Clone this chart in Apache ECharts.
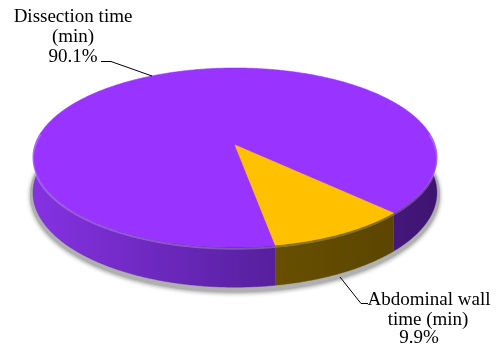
<!DOCTYPE html>
<html>
<head>
<meta charset="utf-8">
<script src="https://cdn.jsdelivr.net/npm/echarts@6/dist/echarts.min.js"></script>
<style>
  html, body { margin: 0; padding: 0; background: #ffffff; }
  #chart { width: 497px; height: 348px; }
</style>
</head>
<body>
<div id="chart"></div>
<script>
// Slices of the 3-D pie
const categories = ['Dissection time (min)', 'Abdominal wall time (min)'];
const labelNames = [['Dissection time', '(min)'], ['Abdominal wall', 'time (min)']];
const values = [90.1, 9.9];

// Colours: top face and the side wall gradient stops (dark side of the disc)
const topColors = ['#9933FF', '#FFC000'];
const sideStops = [
  [{ offset: 0, color: '#8532e2' }, { offset: 0.52, color: '#5c22a6' }, { offset: 1, color: '#3e1470' }],
  [{ offset: 0, color: '#7a5d00' }, { offset: 0.52, color: '#6b5100' }, { offset: 1, color: '#574200' }]
];

// Disc geometry (perspective projection of a flat cylinder)
const geo = { cx: 235, cy: 145, A: 200, B: 87.8, k: 0.14, T: 34.5, start: 80 };
const visibleWin = [-8, 188];

// Label placement (line centres) and leader polylines
const labelLayout = [
  { lines: [[73, 17], [73, 37], [73, 57]], leader: [[101, 61.5], [111, 61.5], [152, 76]] },
  { lines: [[429, 300], [428, 320], [419, 338]], leader: [[340, 277], [361, 303.5], [368, 303.5]] }
];
const labelFont = { fontFamily: 'Liberation Serif', fontSize: 19, fontWeight: 'normal', color: '#000000' };

function proj(deg, h, grow) {
  const g = grow || 0;
  const t = deg * Math.PI / 180;
  const X = Math.cos(t), Z = Math.sin(t);
  const w = 1 - geo.k * Z;
  return [geo.cx + (geo.A + g) * X / w, geo.cy + ((geo.B + g) * Z + geo.T * h) / w];
}
function arc(a0, a1, h, grow) {
  const pts = [];
  const n = Math.max(2, Math.ceil(Math.abs(a1 - a0) / 0.5));
  for (let s = 0; s <= n; s++) pts.push(proj(a0 + (a1 - a0) * s / n, h, grow));
  return pts;
}
function visiblePieces(a0, a1) {
  const out = [];
  for (let n = -1; n <= 2; n++) {
    const lo = Math.max(a0, visibleWin[0] + 360 * n);
    const hi = Math.min(a1, visibleWin[1] + 360 * n);
    if (hi > lo) out.push([lo, hi]);
  }
  return out;
}

const total = values.reduce((a, b) => a + b, 0);

function renderItem(params, api) {
  const i = params.dataIndex;
  const v = api.value(1);
  let before = 0;
  for (let j = 0; j < i; j++) before += values[j];
  const a0 = geo.start + before / total * 360;
  const a1 = a0 + v / total * 360;
  const children = [];

  if (i === 0) {
    // grey shadow fringe around the lower outline of the disc
    const outline = arc(-12, 192, 1.04, 3).concat(arc(192, 348, 0.3, 1));
    children.push({
      type: 'polygon', z2: 0,
      shape: { points: outline },
      style: { fill: '#b0b0b0', shadowBlur: 4, shadowColor: 'rgba(0,0,0,0.4)', shadowOffsetY: 1 }
    });
  }

  // side wall
  visiblePieces(a0, a1).forEach(([lo, hi]) => {
    const pts = arc(lo, hi, 0).concat(arc(hi, lo, 1));
    children.push({
      type: 'polygon', z2: 2,
      shape: { points: pts },
      style: {
        fill: new echarts.graphic.LinearGradient(geo.cx - 202, 0, geo.cx + 202, 0, sideStops[i], true),
        stroke: sideStops[i][1].color, lineWidth: 0.4
      }
    });
    // light bevel along the top rim
    children.push({
      type: 'polyline', z2: 12,
      shape: { points: arc(lo, hi, 0.04) },
      style: { stroke: 'rgba(255,255,255,0.22)', lineWidth: 2, fill: null }
    });
  });

  // top face
  const top = [[geo.cx, geo.cy]].concat(arc(a0, a1, 0));
  children.push({
    type: 'polygon', z2: 10,
    shape: { points: top },
    style: { fill: topColors[i], stroke: topColors[i], lineWidth: 0.6 }
  });

  // leader line
  children.push({
    type: 'polyline', z2: 20,
    shape: { points: labelLayout[i].leader },
    style: { stroke: '#000000', lineWidth: 1, fill: null }
  });

  return { type: 'group', children: children };
}

// Slice labels: name lines followed by the percentage share
const titles = [];
values.forEach((v, i) => {
  const pct = (v / total * 100).toFixed(1) + '%';
  labelNames[i].concat([pct]).forEach((t, li) => {
    const [x, y] = labelLayout[i].lines[li];
    titles.push({
      text: t, left: x, top: y,
      textAlign: 'center', textVerticalAlign: 'middle',
      padding: 0, itemGap: 0,
      textStyle: labelFont
    });
  });
});

const chart = echarts.init(document.getElementById('chart'), null, { renderer: 'canvas' });
chart.setOption({
  animation: false,
  backgroundColor: '#ffffff',
  title: titles,
  series: [{
    type: 'custom',
    coordinateSystem: 'none',
    renderItem: renderItem,
    data: values.map((v, i) => ({ name: categories[i], value: [i, v] }))
  }]
});
</script>
</body>
</html>
